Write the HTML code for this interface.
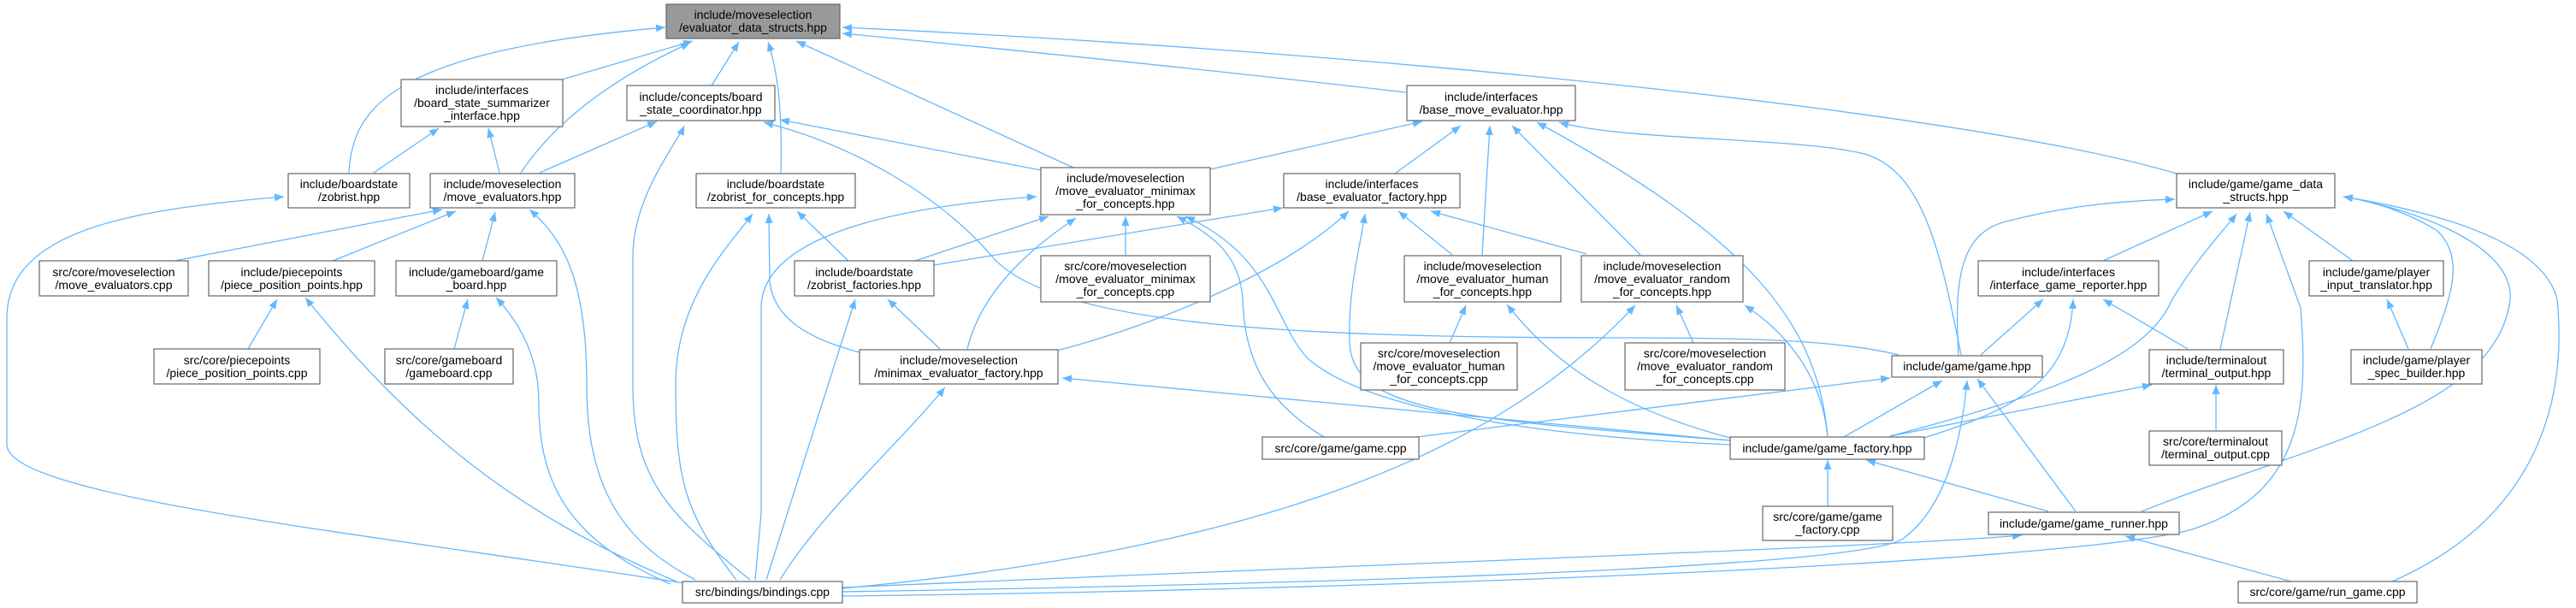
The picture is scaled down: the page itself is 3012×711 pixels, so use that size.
<!DOCTYPE html>
<html><head><meta charset="utf-8"><style>
html,body{margin:0;padding:0;background:#fff;width:3012px;height:711px;overflow:hidden}
svg{display:block}
text{font-family:"Liberation Sans",sans-serif;font-size:14px;fill:#000;text-anchor:middle}
.e{fill:none;stroke:#63b8ff;stroke-width:1.3;marker-end:url(#a)}
rect{fill:#fff;stroke:#666;stroke-width:1.2}
</style></head><body>
<svg width="3012" height="711" viewBox="0 0 3012 711" xmlns="http://www.w3.org/2000/svg">
<defs><marker id="a" markerUnits="userSpaceOnUse" markerWidth="12" markerHeight="9" refX="11" refY="4.5" orient="auto"><path d="M0,0 L11,4.5 L0,9 z" fill="#63b8ff"/></marker></defs>
<g>
<path class="e" d="M408,202 C412,130 450,60 778,32"/>
<path class="e" d="M657,93 L810,48"/>
<path class="e" d="M609,202 C650,140 720,90 807,50"/>
<path class="e" d="M832,100 L864,49"/>
<path class="e" d="M913,202 C915,120 908,80 898,49"/>
<path class="e" d="M1255,196 L931,48"/>
<path class="e" d="M1644,108 C1400,80 1150,55 985,39"/>
<path class="e" d="M2545,203 C2300,130 1600,60 985,32"/>
<path class="e" d="M437,202 L513,150"/>
<path class="e" d="M584,202 L571,150"/>
<path class="e" d="M631,202 L768,142"/>
<path class="e" d="M877,678 C780,600 740,560 740,450 L740,300 C740,230 790,170 800,147"/>
<path class="e" d="M1217,199 L912,140"/>
<path class="e" d="M2220,415 C2150,398 2050,395 1900,395 C1500,395 1230,380 1160,300 C1100,230 1000,170 893,143"/>
<path class="e" d="M1415,198 L1663,142"/>
<path class="e" d="M1631,203 L1708,147"/>
<path class="e" d="M1733,298 L1742,147"/>
<path class="e" d="M1918,298 L1768,147"/>
<path class="e" d="M2137,510 C2125,380 2050,280 1797,143"/>
<path class="e" d="M2293,415 C2270,300 2250,200 2180,180 C2100,160 1900,165 1823,143"/>
<path class="e" d="M204,305 L517,245"/>
<path class="e" d="M389,305 L533,247"/>
<path class="e" d="M564,305 L579,248"/>
<path class="e" d="M813,678 C720,630 686,560 686,450 C686,330 660,280 619,245"/>
<path class="e" d="M800,682 C400,620 10,580 8,520 L8,370 C10,270 150,245 332,230"/>
<path class="e" d="M992,305 L932,247"/>
<path class="e" d="M1005,412 C940,395 905,370 900,330 L899,250"/>
<path class="e" d="M861,678 C800,600 790,560 790,450 C790,350 850,290 880,250"/>
<path class="e" d="M290,408 L324,350"/>
<path class="e" d="M791,680 C600,600 480,500 357,348"/>
<path class="e" d="M531,408 L547,350"/>
<path class="e" d="M784,683 C660,630 630,560 630,470 C630,420 610,380 580,348"/>
<path class="e" d="M1099,408 L1038,350"/>
<path class="e" d="M896,678 L1000,350"/>
<path class="e" d="M1070,305 L1226,253"/>
<path class="e" d="M1092,310 L1500,243"/>
<path class="e" d="M883,678 L890,600 L890,360 C890,290 1000,245 1212,230"/>
<path class="e" d="M1131,408 C1145,350 1190,300 1258,255"/>
<path class="e" d="M1316,298 L1316,253"/>
<path class="e" d="M1548,511 C1480,470 1455,420 1453,350 C1450,300 1420,275 1376,253"/>
<path class="e" d="M2023,520 C1800,510 1600,480 1530,420 C1490,380 1490,300 1386,253"/>
<path class="e" d="M1236,410 C1350,380 1500,320 1577,247"/>
<path class="e" d="M2023,515 C1700,490 1580,480 1578,400 C1576,340 1590,290 1596,250"/>
<path class="e" d="M1698,298 L1635,247"/>
<path class="e" d="M1855,297 L1673,247"/>
<path class="e" d="M912,678 C960,600 1050,520 1105,453"/>
<path class="e" d="M2023,515 L1242,442"/>
<path class="e" d="M1695,401 L1714,357"/>
<path class="e" d="M2023,512 C1900,480 1820,430 1762,356"/>
<path class="e" d="M1980,401 L1960,357"/>
<path class="e" d="M985,688 C1500,640 1760,520 1912,357"/>
<path class="e" d="M2137,510 C2130,440 2090,390 2040,357"/>
<path class="e" d="M1657,511 L2210,442"/>
<path class="e" d="M2156,511 L2271,445"/>
<path class="e" d="M985,692 C1700,680 2180,660 2225,630 C2280,590 2295,500 2300,445"/>
<path class="e" d="M2427,598 L2312,443"/>
<path class="e" d="M2290,415 C2285,330 2290,270 2350,258 C2420,240 2480,235 2543,233"/>
<path class="e" d="M2459,305 L2587,247"/>
<path class="e" d="M2316,415 L2389,350"/>
<path class="e" d="M2250,512 C2350,480 2420,450 2424,350"/>
<path class="e" d="M2558,408 L2459,350"/>
<path class="e" d="M2210,510 C2400,460 2510,420 2540,350 C2570,300 2600,270 2615,250"/>
<path class="e" d="M2596,408 L2631,248"/>
<path class="e" d="M985,697 C1600,690 2400,660 2560,620 C2690,580 2700,480 2690,360 L2650,250"/>
<path class="e" d="M2751,305 L2670,247"/>
<path class="e" d="M2842,408 C2870,340 2880,300 2850,270 C2810,245 2770,235 2740,230"/>
<path class="e" d="M2504,598 C2700,520 2920,480 2935,350 C2940,280 2800,240 2740,230"/>
<path class="e" d="M2797,680 C2980,600 3000,450 2990,350 C2970,270 2800,240 2740,230"/>
<path class="e" d="M2816,408 L2791,350"/>
<path class="e" d="M2210,510 L2516,450"/>
<path class="e" d="M2591,503 L2591,450"/>
<path class="e" d="M2137,592 L2137,538"/>
<path class="e" d="M2395,598 L2182,538"/>
<path class="e" d="M2679,680 L2485,627"/>
<path class="e" d="M985,687 C1600,660 2200,640 2364,626"/>
</g>
<g>
<rect x="779" y="5" width="203" height="40" style="fill:#999"/><text x="880.5" y="22">include/moveselection</text><text x="880.5" y="37">/evaluator_data_structs.hpp</text>
<rect x="469" y="93" width="189" height="55"/><text x="563.5" y="110">include/interfaces</text><text x="563.5" y="125">/board_state_summarizer</text><text x="563.5" y="140">_interface.hpp</text>
<rect x="733" y="100" width="173" height="41"/><text x="819.5" y="118">include/concepts/board</text><text x="819.5" y="133">_state_coordinator.hpp</text>
<rect x="337" y="203" width="142" height="40"/><text x="408" y="220">include/boardstate</text><text x="408" y="235">/zobrist.hpp</text>
<rect x="503" y="203" width="169" height="40"/><text x="587.5" y="220">include/moveselection</text><text x="587.5" y="235">/move_evaluators.hpp</text>
<rect x="814" y="203" width="186" height="40"/><text x="907" y="220">include/boardstate</text><text x="907" y="235">/zobrist_for_concepts.hpp</text>
<rect x="46" y="305" width="174" height="41"/><text x="133" y="323">src/core/moveselection</text><text x="133" y="338">/move_evaluators.cpp</text>
<rect x="244" y="305" width="194" height="41"/><text x="341" y="323">include/piecepoints</text><text x="341" y="338">/piece_position_points.hpp</text>
<rect x="463" y="305" width="188" height="41"/><text x="557" y="323">include/gameboard/game</text><text x="557" y="338">_board.hpp</text>
<rect x="929" y="305" width="163" height="41"/><text x="1010.5" y="323">include/boardstate</text><text x="1010.5" y="338">/zobrist_factories.hpp</text>
<rect x="180" y="408" width="194" height="41"/><text x="277" y="426">src/core/piecepoints</text><text x="277" y="441">/piece_position_points.cpp</text>
<rect x="450" y="408" width="150" height="41"/><text x="525" y="426">src/core/gameboard</text><text x="525" y="441">/gameboard.cpp</text>
<rect x="798" y="680" width="187" height="25"/><text x="891.5" y="697">src/bindings/bindings.cpp</text>
<rect x="1645" y="100" width="197" height="41"/><text x="1743.5" y="118">include/interfaces</text><text x="1743.5" y="133">/base_move_evaluator.hpp</text>
<rect x="1217" y="196" width="198" height="55"/><text x="1316" y="213">include/moveselection</text><text x="1316" y="228">/move_evaluator_minimax</text><text x="1316" y="243">_for_concepts.hpp</text>
<rect x="1501" y="203" width="206" height="40"/><text x="1604" y="220">include/interfaces</text><text x="1604" y="235">/base_evaluator_factory.hpp</text>
<rect x="1217" y="299" width="198" height="54"/><text x="1316" y="316">src/core/moveselection</text><text x="1316" y="331">/move_evaluator_minimax</text><text x="1316" y="346">_for_concepts.cpp</text>
<rect x="1642" y="299" width="183" height="54"/><text x="1733.5" y="316">include/moveselection</text><text x="1733.5" y="331">/move_evaluator_human</text><text x="1733.5" y="346">_for_concepts.hpp</text>
<rect x="1849" y="299" width="189" height="54"/><text x="1943.5" y="316">include/moveselection</text><text x="1943.5" y="331">/move_evaluator_random</text><text x="1943.5" y="346">_for_concepts.hpp</text>
<rect x="1005" y="409" width="232" height="40"/><text x="1121" y="426">include/moveselection</text><text x="1121" y="441">/minimax_evaluator_factory.hpp</text>
<rect x="1591" y="401" width="183" height="55"/><text x="1682.5" y="418">src/core/moveselection</text><text x="1682.5" y="433">/move_evaluator_human</text><text x="1682.5" y="448">_for_concepts.cpp</text>
<rect x="1900" y="401" width="187" height="55"/><text x="1993.5" y="418">src/core/moveselection</text><text x="1993.5" y="433">/move_evaluator_random</text><text x="1993.5" y="448">_for_concepts.cpp</text>
<rect x="1476" y="511" width="183" height="26"/><text x="1567.5" y="529">src/core/game/game.cpp</text>
<rect x="2545" y="203" width="185" height="40"/><text x="2637.5" y="220">include/game/game_data</text><text x="2637.5" y="235">_structs.hpp</text>
<rect x="2313" y="305" width="211" height="41"/><text x="2418.5" y="323">include/interfaces</text><text x="2418.5" y="338">/interface_game_reporter.hpp</text>
<rect x="2700" y="305" width="157" height="41"/><text x="2778.5" y="323">include/game/player</text><text x="2778.5" y="338">_input_translator.hpp</text>
<rect x="2212" y="416" width="176" height="25"/><text x="2300" y="433">include/game/game.hpp</text>
<rect x="2513" y="409" width="157" height="40"/><text x="2591.5" y="426">include/terminalout</text><text x="2591.5" y="441">/terminal_output.hpp</text>
<rect x="2749" y="409" width="153" height="40"/><text x="2825.5" y="426">include/game/player</text><text x="2825.5" y="441">_spec_builder.hpp</text>
<rect x="2023" y="511" width="227" height="26"/><text x="2136.5" y="529">include/game/game_factory.hpp</text>
<rect x="2513" y="504" width="155" height="40"/><text x="2590.5" y="521">src/core/terminalout</text><text x="2590.5" y="536">/terminal_output.cpp</text>
<rect x="2061" y="592" width="152" height="40"/><text x="2137" y="609">src/core/game/game</text><text x="2137" y="624">_factory.cpp</text>
<rect x="2325" y="599" width="223" height="26"/><text x="2436.5" y="617">include/game/game_runner.hpp</text>
<rect x="2617" y="680" width="209" height="25"/><text x="2721.5" y="697">src/core/game/run_game.cpp</text>
</g>
</svg>
</body></html>
